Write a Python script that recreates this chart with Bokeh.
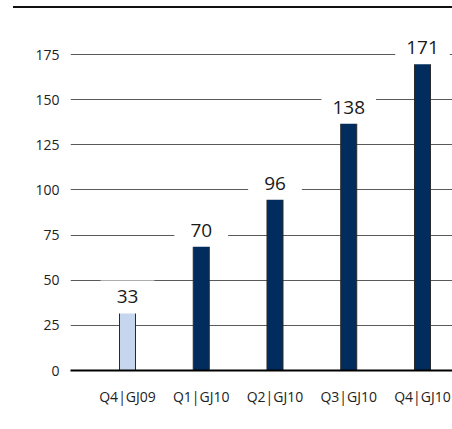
from bokeh.plotting import figure
from bokeh.models import ColumnDataSource, FixedTicker, Range1d, Div
from bokeh.core.properties import value
from bokeh.layouts import column
from bokeh.embed import file_html
from bokeh.resources import INLINE

categories = ["Q4|GJ09", "Q1|GJ10", "Q2|GJ10", "Q3|GJ10", "Q4|GJ10"]
values = [33, 70, 96, 138, 171]
bar_colors = ["#c6d6ee", "#002d5e", "#002d5e", "#002d5e", "#002d5e"]
y_ticks = [0, 25, 50, 75, 100, 125, 150, 175]

FONT = "Open Sans"

# thin rule at the top of the page
rule = Div(text="", width=439, height=2, margin=(6, 0, 2, 13),
           styles={"background-color": "#111111"})

xs = list(range(len(categories)))
src = ColumnDataSource(dict(x=xs, top=values, color=bar_colors,
                            label=[str(v) for v in values]))

p = figure(frame_width=382, frame_height=343,
           x_range=Range1d(-0.773, len(categories) - 1 + 0.407),
           y_range=Range1d(0, 190),
           output_backend="svg", toolbar_location=None,
           min_border_left=70, min_border_right=0, min_border_top=17,
           min_border_bottom=40)
p.outline_line_color = None
p.xgrid.visible = False
p.ygrid.ticker = FixedTicker(ticks=y_ticks)
p.ygrid.grid_line_color = "#5a5a5a"
p.ygrid.grid_line_width = 1

p.vbar(x="x", top="top", width=0.217, bottom=0, fill_color="color",
       line_color="#2a2a2a", line_width=1, source=src)

# y axis
p.yaxis.ticker = FixedTicker(ticks=y_ticks)
p.yaxis.axis_line_color = None
p.yaxis.major_tick_line_color = None
p.yaxis.minor_tick_line_color = None
p.yaxis.major_label_standoff = 5
p.yaxis.major_label_text_font = FONT
p.yaxis.major_label_text_font_size = "14px"
p.yaxis.major_label_text_color = "#222222"

# x axis
p.xaxis.ticker = FixedTicker(ticks=xs)
p.xaxis.major_label_overrides = {i: c for i, c in enumerate(categories)}
p.xaxis.axis_line_color = "#000000"
p.xaxis.axis_line_width = 2
p.xaxis.major_tick_line_color = None
p.xaxis.minor_tick_line_color = None
p.xaxis.major_label_standoff = 10
p.xaxis.major_label_text_font = FONT
p.xaxis.major_label_text_font_size = "14px"
p.xaxis.major_label_text_color = "#222222"

# value labels with white boxes (two sets: 2-digit and 3-digit widths)
short = [i for i, v in enumerate(values) if len(str(v)) <= 2]
long_ = [i for i, v in enumerate(values) if len(str(v)) > 2]
for idx, hpad in ((short, 16), (long_, 11)):
    s = ColumnDataSource(dict(x=[xs[i] for i in idx], y=[values[i] for i in idx],
                              label=[str(values[i]) for i in idx]))
    p.text(x="x", y="y", text="label", source=s,
           text_align="center", text_baseline="alphabetic",
           y_offset=-14, text_font=value(FONT), text_font_size="19px",
           text_color="#1a1a1a",
           background_fill_color="white",
           padding=(hpad, 10))

layout = column(rule, p, spacing=0)
open("out.html", "w").write(file_html(layout, INLINE))
